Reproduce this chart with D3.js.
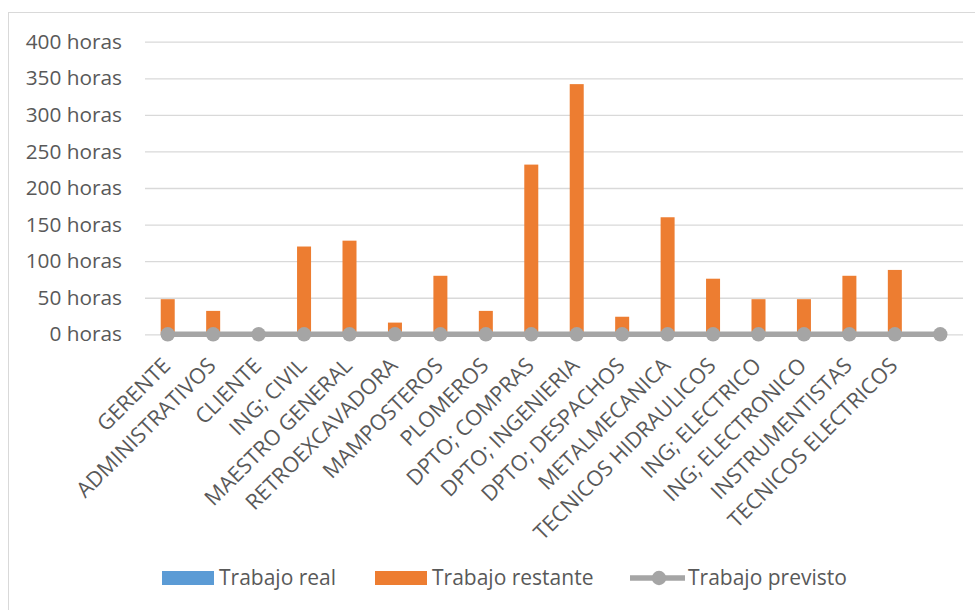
<!DOCTYPE html>
<html>
<head>
<meta charset="utf-8">
<script src="https://cdn.jsdelivr.net/npm/d3@7"></script>
<style>
  body { margin: 0; background: #fff; }
  svg { display: block; font-family: "Open Sans", sans-serif; }
</style>
</head>
<body>
<div id="chart"></div>
<script>
// categorias (la ultima va vacia, como en la hoja original)
var categorias = ["GERENTE", "ADMINISTRATIVOS", "CLIENTE", "ING; CIVIL", "MAESTRO GENERAL",
  "RETROEXCAVADORA", "MAMPOSTEROS", "PLOMEROS", "DPTO; COMPRAS", "DPTO; INGENIERIA",
  "DPTO; DESPACHOS", "METALMECANICA", "TECNICOS HIDRAULICOS", "ING; ELECTRICO",
  "ING; ELECTRONICO", "INSTRUMENTISTAS", "TECNICOS ELECTRICOS", ""];
var trabajoReal     = [0, 0, 0, 0, 0, 0, 0, 0, 0, 0, 0, 0, 0, 0, 0, 0, 0, 0];
var trabajoRestante = [48, 32, 0, 120, 128, 16, 80, 32, 232, 342, 24, 160, 76, 48, 48, 80, 88, 0];
var trabajoPrevisto = [0, 0, 0, 0, 0, 0, 0, 0, 0, 0, 0, 0, 0, 0, 0, 0, 0, 0];
var yTicks = [0, 50, 100, 150, 200, 250, 300, 350, 400];

var width = 975, height = 610;
var margin = {top: 41.7, right: 12, bottom: 276, left: 145};
var gris = "#595959";

var svg = d3.select("#chart").append("svg")
  .attr("width", width)
  .attr("height", height);

// borde del grafico
svg.append("rect")
  .attr("x", 8.5).attr("y", 12.5)
  .attr("width", 990).attr("height", 620)
  .style("fill", "none")
  .style("stroke", "#d9d9d9");

var x = d3.scaleBand()
  .domain(d3.range(categorias.length))
  .range([margin.left, width - margin.right]);

var y = d3.scaleLinear()
  .domain([0, 400])
  .range([height - margin.bottom + 0.3, margin.top]);

// lineas de cuadricula y etiquetas del eje Y
var yAxis = svg.append("g")
  .attr("transform", "translate(" + margin.left + ",0)")
  .call(d3.axisLeft(y).tickValues(yTicks)
    .tickSize(-(x.range()[1] - margin.left))
    .tickPadding(23)
    .tickFormat(function(d) { return d + " horas"; }));
yAxis.select(".domain").remove();
yAxis.selectAll(".tick line").style("stroke", "#d9d9d9").style("stroke-width", 1.3);
yAxis.selectAll(".tick text")
  .style("fill", gris)
  .style("font-size", "20.8px")
  .style("font-family", "Open Sans, sans-serif");

var barW = 14;
var apilado = trabajoReal.map(function(d, i) {
  return {i: i, real: d, restante: trabajoRestante[i]};
});

// barras (trabajo real + restante apiladas)
svg.selectAll(".real")
  .data(apilado)
  .enter().append("rect")
  .attr("class", "real")
  .attr("x", function(d) { return x(d.i) + x.bandwidth() / 2 - barW / 2; })
  .attr("y", function(d) { return y(d.real); })
  .attr("width", barW)
  .attr("height", function(d) { return y(0) - y(d.real); })
  .style("fill", "#5b9bd5");

svg.selectAll(".restante")
  .data(apilado)
  .enter().append("rect")
  .attr("class", "restante")
  .attr("x", function(d) { return x(d.i) + x.bandwidth() / 2 - barW / 2; })
  .attr("y", function(d) { return y(d.real + d.restante); })
  .attr("width", barW)
  .attr("height", function(d) { return y(d.real) - y(d.real + d.restante); })
  .style("fill", "#ed7d31");

// linea trabajo previsto
var linea = d3.line()
  .x(function(d, i) { return x(i) + x.bandwidth() / 2; })
  .y(function(d) { return y(d); });

svg.append("path")
  .datum(trabajoPrevisto)
  .attr("d", linea)
  .style("fill", "none")
  .style("stroke", "#a5a5a5")
  .style("stroke-width", 5.5);

svg.selectAll(".punto")
  .data(trabajoPrevisto)
  .enter().append("circle")
  .attr("class", "punto")
  .attr("cx", function(d, i) { return x(i) + x.bandwidth() / 2; })
  .attr("cy", function(d) { return y(d); })
  .attr("r", 7.2)
  .style("fill", "#a5a5a5");

// etiquetas de categorias giradas
svg.selectAll(".cat")
  .data(categorias)
  .enter().append("text")
  .attr("class", "cat")
  .attr("transform", function(d, i) {
    return "translate(" + (x(i) + x.bandwidth() / 2 + 4) + "," + 367 + ") rotate(-45)";
  })
  .attr("text-anchor", "end")
  .style("fill", gris)
  .style("font-size", "21.5px")
  .text(function(d) { return d; });

// leyenda
var leyenda = [
  {nombre: "Trabajo real", tipo: "rect", color: "#5b9bd5", x: 162, tx: 219},
  {nombre: "Trabajo restante", tipo: "rect", color: "#ed7d31", x: 375, tx: 432},
  {nombre: "Trabajo previsto", tipo: "line", color: "#a5a5a5", x: 630, tx: 688}
];
var ley = svg.selectAll(".ley")
  .data(leyenda)
  .enter().append("g")
  .attr("class", "ley");

ley.filter(function(d) { return d.tipo == "rect"; })
  .append("rect")
  .attr("x", function(d) { return d.x; })
  .attr("y", 571)
  .attr("width", 52)
  .attr("height", 14)
  .style("fill", function(d) { return d.color; });

var ll = ley.filter(function(d) { return d.tipo == "line"; });
ll.append("line")
  .attr("x1", function(d) { return d.x; })
  .attr("x2", function(d) { return d.x + 55; })
  .attr("y1", 578).attr("y2", 578)
  .style("stroke", function(d) { return d.color; })
  .style("stroke-width", 5.5);
ll.append("circle")
  .attr("cx", function(d) { return d.x + 29; })
  .attr("cy", 578)
  .attr("r", 7.2)
  .style("fill", function(d) { return d.color; });

ley.append("text")
  .attr("x", function(d) { return d.tx; })
  .attr("y", 585)
  .style("fill", gris)
  .style("font-size", "21px")
  .text(function(d) { return d.nombre; });
</script>
</body>
</html>
